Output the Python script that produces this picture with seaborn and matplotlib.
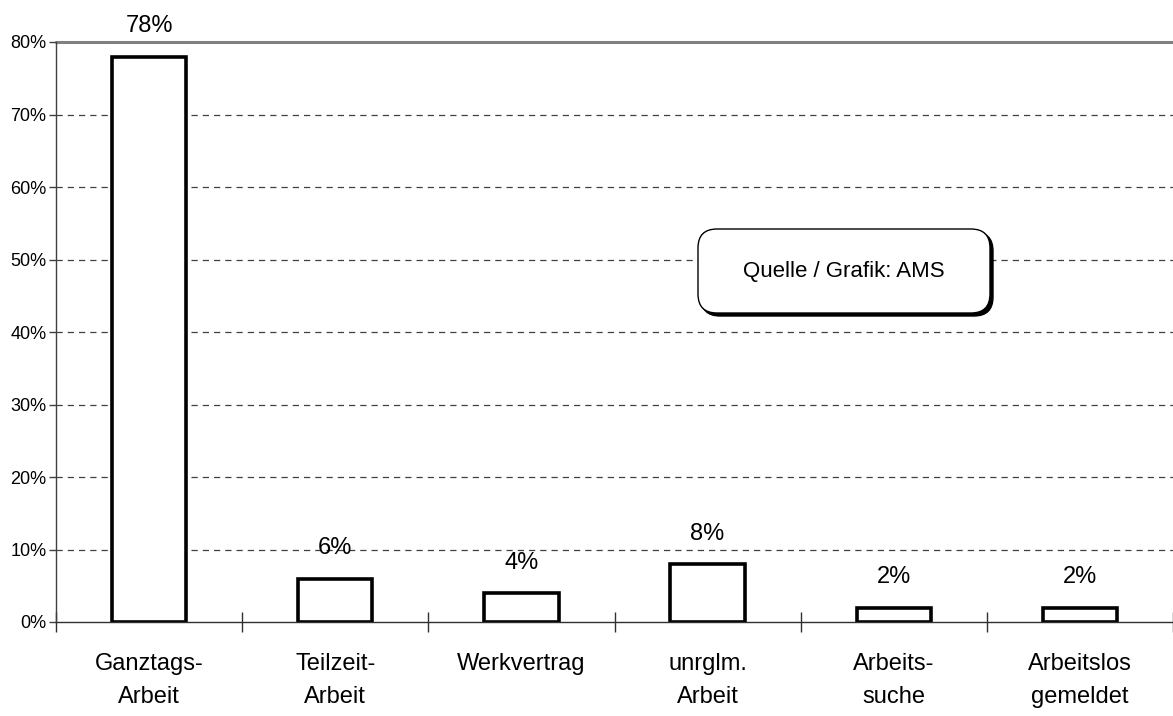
import matplotlib
matplotlib.use("Agg")
import matplotlib.pyplot as plt
from matplotlib.patches import FancyBboxPatch
import seaborn as sns
import pandas as pd

categories = ["Ganztags-\nArbeit", "Teilzeit-\nArbeit", "Werkvertrag", "unrglm.\nArbeit", "Arbeits-\nsuche", "Arbeitslos\ngemeldet"]
values = [78, 6, 4, 8, 2, 2]
ytick_values = [0, 10, 20, 30, 40, 50, 60, 70, 80]
ytick_labels = [f"{v}%" for v in ytick_values]
source_text = "Quelle / Grafik: AMS"

sns.set_theme(style="white")
plt.rcParams['font.family'] = ['Liberation Sans Narrow', 'Liberation Sans', 'DejaVu Sans']
plt.rcParams['text.color'] = 'black'
plt.rcParams['xtick.color'] = 'black'
plt.rcParams['ytick.color'] = 'black'
plt.rcParams['xtick.labelcolor'] = 'black'
plt.rcParams['ytick.labelcolor'] = 'black'

fig = plt.figure(figsize=(11.73, 7.16), dpi=100)
ax = fig.add_axes([56/1173, 1-622/716, 1-56/1173, (622-42)/716])

df = pd.DataFrame({"cat": categories, "val": values})
sns.barplot(data=df, x="cat", y="val", ax=ax, color="white", edgecolor="black",
            linewidth=2.6, width=0.4, saturation=1)

ax.set_xlim(-0.5, len(categories) - 0.5)
ax.set_ylim(0, 80)
ax.set_xlabel("")
ax.set_ylabel("")

for i, v in enumerate(values):
    ax.annotate(f"{v}%", (i, v), xytext=(0, 14), textcoords="offset points",
                ha="center", va="bottom", fontsize=17, color="black")

# gridlines
for v in ytick_values[1:-1]:
    ax.axhline(v, color="#404040", linestyle=(0, (5, 4)), linewidth=0.9, zorder=0)
ax.axhline(80, color="#808080", linewidth=2.2, zorder=0, clip_on=False)

ax.set_yticks(ytick_values)
ax.set_yticklabels(ytick_labels, fontsize=13, color="black")
ax.tick_params(axis="y", direction="out", length=5, width=1, color="#404040", pad=2, left=True)

ax.set_xticks(range(len(categories)))
ax.set_xticklabels(categories, fontsize=17, linespacing=1.7, color="black")
ax.tick_params(axis="x", which="major", length=0, pad=22, bottom=True)
ax.set_xticks([i - 0.5 for i in range(len(categories) + 1)], minor=True)
ax.tick_params(axis="x", which="minor", direction="inout", length=14, width=1, color="#303030", bottom=True)

for s in ["top", "right"]:
    ax.spines[s].set_visible(False)
ax.spines["left"].set_color("#404040")
ax.spines["left"].set_linewidth(1)
ax.spines["bottom"].set_color("#303030")
ax.spines["bottom"].set_linewidth(1)

# source box with shadow
bx0, by0 = (698-56)/1117, (622-313)/580
bw, bh = (990-698)/1117, (313-229)/580
dx, dy = 3/1117, -3/580
rs = 0.017
shadow = FancyBboxPatch((bx0+dx, by0+dy), bw, bh, boxstyle=f"round,pad=0,rounding_size={rs}",
                        transform=ax.transAxes, facecolor="black", edgecolor="black",
                        mutation_aspect=1117/580, zorder=5, clip_on=False)
box = FancyBboxPatch((bx0, by0), bw, bh, boxstyle=f"round,pad=0,rounding_size={rs}",
                     transform=ax.transAxes, facecolor="white", edgecolor="black", linewidth=1,
                     mutation_aspect=1117/580, zorder=6, clip_on=False)
ax.add_patch(shadow)
ax.add_patch(box)
ax.text(bx0 + bw/2, by0 + bh/2, source_text, transform=ax.transAxes, ha="center", va="center",
        fontsize=16, zorder=7, color="black")

fig.savefig("out.png", dpi=100)
